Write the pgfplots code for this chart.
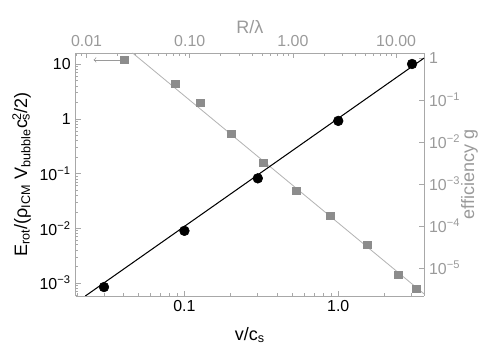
\documentclass[border=0pt]{standalone}
\usepackage{fontspec}
\setmainfont{Liberation Sans}
\usepackage{pgfplots}
\pgfplotsset{compat=1.18}
\definecolor{framegray}{HTML}{A8A8A8}
\definecolor{labgray}{HTML}{9A9A9A}
\definecolor{sqgray}{HTML}{8C8C8C}
\definecolor{linegray}{HTML}{B4B4B4}
\newcommand{\tp}[1]{10\textsuperscript{−#1}}
\pgfplotsset{
  common/.style={
    scale only axis, width=251bp, height=175bp,
    at={(0,0)}, anchor=south west,
    font=\fontsize{11.5}{13}\selectfont,
    label style={font=\fontsize{13}{15}\selectfont},
    axis line style={framegray, line width=0.6bp},
    every tick/.style={framegray, line width=0.5bp},
    major tick length=3.6bp, minor tick length=2bp,
    /pgf/number format/assume math mode=true,
    clip=true,
  }
}
\begin{document}
\begin{tikzpicture}
  %% R/lambda (top) vs efficiency g (right)
  \begin{loglogaxis}[common,
      xmin=0.00783, xmax=18.7, ymin=2.15e-6, ymax=1.32,
      axis x line*=top, axis y line*=right,
      xtick={0.01,0.1,1,10}, xticklabels={0.01,0.10,1.00,10.00},
      minor xtick={0.008,0.009,0.02,0.03,0.04,0.05,0.06,0.07,0.08,0.09,
        0.2,0.3,0.4,0.5,0.6,0.7,0.8,0.9,2,3,4,5,6,7,8,9},
      ytick={1,0.1,0.01,0.001,1e-4,1e-5},
      yticklabels={1,\tp{1},\tp{2},\tp{3},\tp{4},\tp{5}},
      minor ytick={},
      ticklabel style={labgray},
      xticklabel style={yshift=1bp},
      xlabel={R/λ}, ylabel={efficiency g},
      xlabel style={labgray, at={(axis description cs:0.5,1.107)}, anchor=center},
      ylabel style={labgray, at={(axis description cs:1.13,0.5)}, anchor=center},
    ]
    \addplot[linegray, line width=0.6bp] coordinates {(0.0279,1.32) (18.7,2.4e-6)};
    \addplot[only marks, mark=square*, sqgray, mark size=2.7bp] coordinates {
      (0.0233,0.90) (0.0728,0.24) (0.127,0.085) (0.254,0.0155) (0.516,3.16e-3)
      (1.08,6.8e-4) (2.30,1.73e-4) (5.25,3.53e-5) (10.5,6.8e-6) (15.7,3.16e-6)
    };
    % upper limit arrow on the first point
    \draw[labgray, line width=0.5bp, -to] (axis cs:0.0215,0.90) -- (axis cs:0.0117,0.90);
  \end{loglogaxis}
  %% v/c_s (bottom) vs E_rot (left)
  \begin{loglogaxis}[common,
      xmin=0.0196, xmax=3.62, ymin=5.8e-4, ymax=16.1,
      axis x line*=bottom, axis y line*=left,
      xtick={0.1,1}, xticklabels={0.1,1.0},
      minor xtick={0.02,0.03,0.04,0.05,0.06,0.07,0.08,0.09,
        0.2,0.3,0.4,0.5,0.6,0.7,0.8,0.9,2,3},
      ytick={1e-3,1e-2,0.1,1,10},
      yticklabels={\tp{3},\tp{2},\tp{1},1,10},
      minor ytick={6e-4,7e-4,8e-4,9e-4,2e-3,3e-3,4e-3,5e-3,6e-3,7e-3,8e-3,9e-3,
        0.02,0.03,0.04,0.05,0.06,0.07,0.08,0.09,0.2,0.3,0.4,0.5,0.6,0.7,0.8,0.9,
        2,3,4,5,6,7,8,9},
      xlabel={v/c\textsubscript{s}},
      ylabel={E\textsubscript{rot}/(ρ\textsubscript{ICM} V\textsubscript{bubble}c\rlap{\textsuperscript{2}}\textsubscript{s}/2)},
      xlabel style={at={(axis description cs:0.5,-0.16)}, anchor=center},
      ylabel style={at={(axis description cs:-0.155,0.5)}, anchor=center},
    ]
    \addplot[black, line width=0.75bp] coordinates {(0.0227,5.8e-4) (3.62,13.0)};
    \addplot[only marks, mark=*, black, mark size=3.5bp] coordinates {
      (0.03,8.45e-4) (0.1,9.0e-3) (0.3,0.082) (1,0.92) (3.02,10.1)
    };
  \end{loglogaxis}
  \pgfresetboundingbox
  \path (-54.4bp,-38.9bp) rectangle (305.6bp,213.1bp);
\end{tikzpicture}
\end{document}
